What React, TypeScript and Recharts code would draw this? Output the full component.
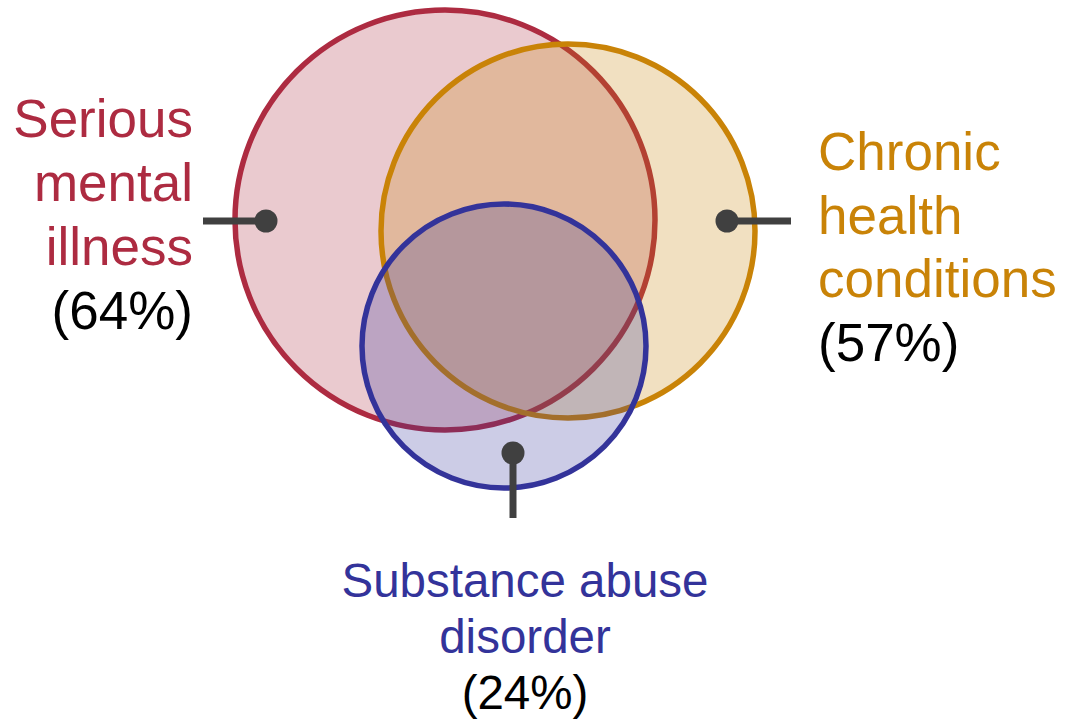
import React from 'react';
import { ScatterChart, Scatter, XAxis, YAxis, Customized } from 'recharts';

// the three groups, their share and how the diagram lays them out
const GROUPS = ['Serious mental illness', 'Chronic health conditions', 'Substance abuse disorder'];
const SHARES = [64, 57, 24];
const CENTER_X = [445, 568, 504];
const CENTER_Y = [220, 231, 346];
const RADIUS = [210, 187, 142];

// callout dot and the end of its leader line, per group
const DOT_X = [266, 727, 513];
const DOT_Y = [221, 221, 453];
const LEAD_X = [203, 791, 513];
const LEAD_Y = [221, 221, 518];

const LABEL_LINES = [
  ['Serious', 'mental', 'illness'],
  ['Chronic', 'health', 'conditions'],
  ['Substance abuse', 'disorder'],
];

const COLORS = ['#ad2b41', '#c98307', '#33339a'];
const INK = '#404040';
const FONT = '"Liberation Sans", Arial, sans-serif';

const W = 1074;
const H = 719;

const circleData = GROUPS.map((name, i) => [{ name, x: CENTER_X[i], y: CENTER_Y[i], r: RADIUS[i] }]);
const leaderData = GROUPS.map((name, i) => [
  { name, x: DOT_X[i], y: DOT_Y[i], dot: true },
  { name, x: LEAD_X[i], y: LEAD_Y[i], dot: false },
]);

const Labels = () => {
  const side = 53;
  const bottom = 47.5;
  return (
    <g fontFamily={FONT}>
      <text x={193} textAnchor="end" fontSize={side} fill={COLORS[0]}>
        {LABEL_LINES[0].map((t, k) => (
          <tspan key={k} x={193} y={137 + k * 64}>{t}</tspan>
        ))}
        <tspan x={193} y={137 + 3 * 64} fill="#000">({SHARES[0]}%)</tspan>
      </text>
      <text x={818} textAnchor="start" fontSize={side} fill={COLORS[1]}>
        {LABEL_LINES[1].map((t, k) => (
          <tspan key={k} x={818} y={170 + k * 63.5}>{t}</tspan>
        ))}
        <tspan x={818} y={170 + 3 * 63.5} fill="#000">({SHARES[1]}%)</tspan>
      </text>
      <text x={525} textAnchor="middle" fontSize={bottom} fill={COLORS[2]}>
        {LABEL_LINES[2].map((t, k) => (
          <tspan key={k} x={525} y={597 + k * 56}>{t}</tspan>
        ))}
        <tspan x={525} y={597 + 2 * 56} fill="#000">({SHARES[2]}%)</tspan>
      </text>
    </g>
  );
};

export default function App() {
  return (
    <div style={{ position: 'absolute', left: 0, top: 0, width: W, height: H, background: '#fff' }}>
      <ScatterChart width={W} height={H} margin={{ top: 0, right: 0, bottom: 0, left: 0 }}>
        <XAxis type="number" dataKey="x" domain={[0, W]} hide />
        <YAxis type="number" dataKey="y" domain={[0, H]} reversed hide />
        {circleData.map((d, i) => (
          <Scatter
            key={`set-${i}`}
            data={d}
            isAnimationActive={false}
            shape={(p: any) => (
              <circle
                cx={p.cx}
                cy={p.cy}
                r={p.payload.r}
                fill={COLORS[i]}
                fillOpacity={0.25}
                stroke={COLORS[i]}
                strokeWidth={5.5}
              />
            )}
          />
        ))}
        {leaderData.map((d, i) => (
          <Scatter
            key={`lead-${i}`}
            data={d}
            isAnimationActive={false}
            line={{ stroke: INK, strokeWidth: 7 }}
            shape={(p: any) =>
              p.payload.dot ? <circle cx={p.cx} cy={p.cy} r={11.5} fill={INK} /> : <g />
            }
          />
        ))}
        <Customized component={Labels} />
      </ScatterChart>
    </div>
  );
}
